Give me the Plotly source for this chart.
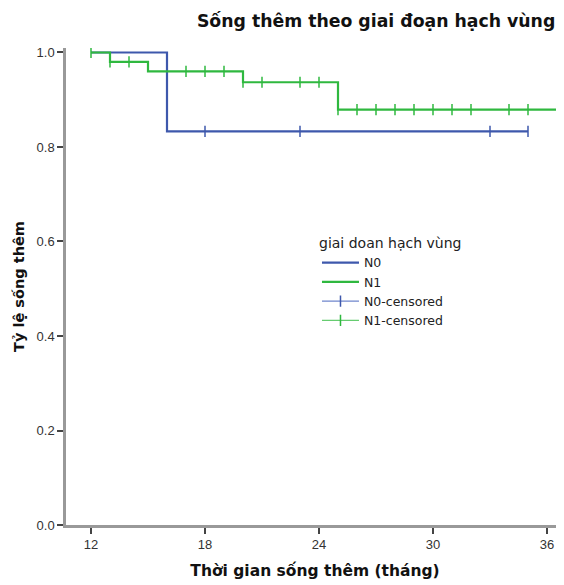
import plotly.graph_objects as go

# Kaplan-Meier step curves
n0_times = [12, 16, 35]
n0_surv = [1.0, 0.833, 0.833]
n1_times = [12, 13, 15, 20, 25, 40]
n1_surv = [1.0, 0.98, 0.96, 0.937, 0.879, 0.879]

# censored observations
n0_cens_times = [18, 23, 33, 35]
n0_cens_surv = [0.833, 0.833, 0.833, 0.833]
n1_cens_times = [12, 13, 14, 17, 18, 19, 20, 21, 23, 24, 25, 26, 27, 28, 29, 30, 31, 32, 34, 35]
n1_cens_surv = [1.0, 0.98, 0.98, 0.96, 0.96, 0.96, 0.937, 0.937, 0.937, 0.937,
                0.879, 0.879, 0.879, 0.879, 0.879, 0.879, 0.879, 0.879, 0.879, 0.879]

x_ticks = [12, 18, 24, 30, 36]
y_ticks = [0.0, 0.2, 0.4, 0.6, 0.8, 1.0]

BLUE = "#3E58AC"
GREEN = "#2FB83F"
BLUE_L = "#6F86CC"
GREEN_L = "#66CC70"
FONT = "Liberation Sans, Arial, sans-serif"
WIDE = "DejaVu Sans, sans-serif"

# the page body has an 8px margin; the figure is sized to fill the rest
W, H = 556, 577


def gapped(xs, ys):
    gx, gy = [], []
    for a, b in zip(xs, ys):
        gx += [a, None]
        gy += [b, None]
    return gx, gy


fig = go.Figure()
fig.add_trace(go.Scatter(x=n0_times, y=n0_surv, mode="lines", line_shape="hv",
                         line=dict(color=BLUE, width=2.2), name="N0"))
fig.add_trace(go.Scatter(x=n1_times, y=n1_surv, mode="lines", line_shape="hv",
                         line=dict(color=GREEN, width=2.2), name="N1"))
cx, cy = gapped(n0_cens_times, n0_cens_surv)
fig.add_trace(go.Scatter(x=cx, y=cy, mode="lines+markers", connectgaps=False,
                         line=dict(color=BLUE_L, width=1.2),
                         marker=dict(symbol="line-ns", size=8,
                                     line=dict(color=BLUE, width=1.5)),
                         name="N0-censored"))
cx, cy = gapped(n1_cens_times, n1_cens_surv)
fig.add_trace(go.Scatter(x=cx, y=cy, mode="lines+markers", connectgaps=False,
                         line=dict(color=GREEN_L, width=1.2),
                         marker=dict(symbol="line-ns", size=8,
                                     line=dict(color=GREEN, width=1.5)),
                         name="N1-censored"))

fig.update_layout(
    width=W, height=H,
    margin=dict(l=58, r=0, t=40, b=60),
    paper_bgcolor="white", plot_bgcolor="white",
    font=dict(family=FONT, size=12, color="#222"),
    title=dict(text="<b>Sống thêm theo giai đoạn hạch vùng</b>",
               x=0.662, xanchor="center", y=0.988, yanchor="top",
               font=dict(family=WIDE, size=17.3, color="#111")),
    showlegend=True,
    legend=dict(x=0.504, y=0.619, xanchor="left", yanchor="top",
                bgcolor="rgba(0,0,0,0)",
                title=dict(text="giai doan hạch vùng",
                           font=dict(family=WIDE, size=14, color="#222")),
                font=dict(family=WIDE, size=12.5, color="#222"),
                itemwidth=37, tracegroupgap=0),
)
fig.update_xaxes(range=[10.684, 36.895], tickvals=x_ticks, ticktext=[str(v) for v in x_ticks],
                 automargin=False,
                 showgrid=False, zeroline=False, showline=True, linecolor="#999", linewidth=2.5,
                 ticks="outside", ticklen=6, tickwidth=1.5, tickcolor="#444",
                 tickfont=dict(size=13, color="#333"),
                 title=dict(text="<b>Thời gian sống thêm (tháng)</b>",
                            font=dict(family=WIDE, size=15.5, color="#111"), standoff=14))
fig.update_yaxes(range=[0, 1.0095], tickvals=y_ticks, ticktext=[f"{v:.1f}" for v in y_ticks],
                 automargin=False,
                 showgrid=False, zeroline=False, showline=True, linecolor="#999", linewidth=2.5,
                 ticks="outside", ticklen=6, tickwidth=1.5, tickcolor="#444",
                 tickfont=dict(size=13, color="#333"),
                 title=dict(text="<b>Tỷ lệ sống thêm</b>",
                            font=dict(family=WIDE, size=14.5, color="#111"), standoff=9))

fig.write_html("out.html")
